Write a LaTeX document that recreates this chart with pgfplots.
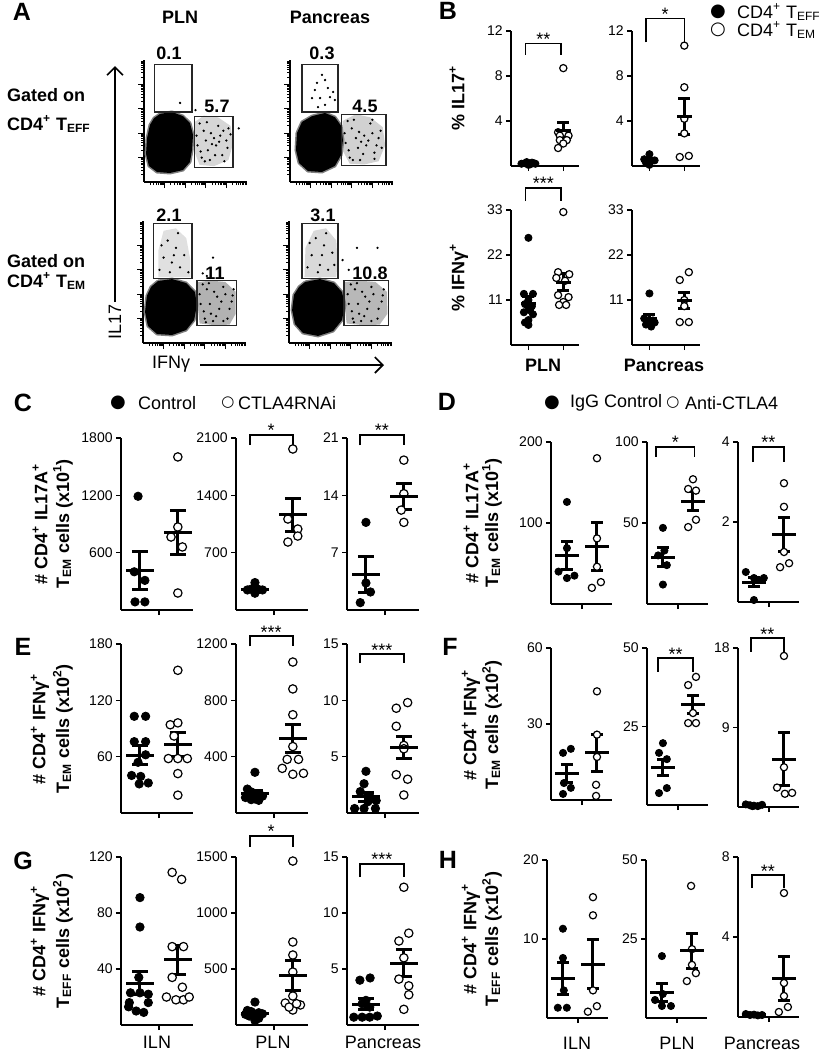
\documentclass[border=0pt]{standalone}
\usepackage{fontspec}
\setmainfont{Liberation Sans}
\newfontfamily\dejavu{DejaVu Sans}
\usepackage{pgfplots}
\usepackage{pgfplotstable}
\pgfplotsset{compat=1.18}
\usetikzlibrary{arrows.meta}

\newcommand\tickfont{\fontsize{7}{8}\selectfont}
\newcommand\lbl{\fontsize{9}{10}\selectfont\bfseries}
\newcommand\reg{\fontsize{9}{10}\selectfont}
\newcommand\pan{\fontsize{12.5}{13}\selectfont\bfseries}
\newcommand\sigfont{\fontsize{9}{10}\selectfont}

% significance bracket: x1 x2 ytop ybottom xmid stars
\newcommand{\sig}[6]{%
  \draw[line width=0.8pt] (axis cs:#1,#4) -- (axis cs:#1,#3) -- (axis cs:#2,#3) -- (axis cs:#2,#4);
  \node[font=\sigfont, anchor=base, inner sep=0pt, yshift=-1pt] at (axis cs:#5,#3) {#6};}

\tikzset{gate/.style={draw=black!85, line width=0.55pt}}

\pgfplotsset{
  dot/.style={scale only axis, anchor=south west, clip=false,
    axis x line*=bottom, axis y line*=left,
    axis line style={line width=1pt},
    every tick/.style={black, line width=0.8pt},
    major tick length=2.5pt, tick align=outside,
    xtick={1.5}, xticklabels={}, ymin=0,
    yticklabel style={font=\tickfont, inner sep=1.5pt},
    xmin=0.5, xmax=2.4, width=36pt},
  dotr/.style={dot, xmin=0.47, xmax=2.5, width=30.5pt},
  dotb/.style={dot, xmin=0.5, xmax=2.45, width=34pt, height=67.5pt, xtick={1,2}},
  ctl/.style={only marks, mark=*, mark size=#1, black},
  ctl/.default=2.1pt,
  trt/.style={only marks, mark=*, mark size=#1, mark options={draw=black, fill=white, line width=0.6pt}},
  trt/.default=2.1pt,
  msem/.style n args={2}{black, only marks, mark=-, mark size=#1, mark options={line width=1.5pt},
    error bars/y dir=both, error bars/y explicit,
    error bars/error bar style={line width=1.5pt},
    error bars/error mark options={rotate=90, line width=1.5pt, mark size=#2}},
  flow/.style={scale only axis, anchor=south west, clip=false,
    width=51.5pt, height=61pt, xmin=0, xmax=5, ymin=0, ymax=5,
    axis x line*=bottom, axis y line*=left,
    axis line style={line width=0.6pt},
    every tick/.style={black, line width=0.5pt},
    tick align=outside, major tick length=3pt, minor tick length=1.5pt,
    xtick={1,2,3,4}, ytick={1,2,3,4}, xticklabels={}, yticklabels={},
    minor xtick={0.301,0.477,0.602,0.699,0.778,0.845,0.903,0.954,1.301,1.477,1.602,1.699,1.778,1.845,1.903,1.954,2.301,2.477,2.602,2.699,2.778,2.845,2.903,2.954,3.301,3.477,3.602,3.699,3.778,3.845,3.903,3.954,4.301,4.477,4.602,4.699,4.778,4.845,4.903,4.954},
    minor ytick={0.301,0.477,0.602,0.699,0.778,0.845,0.903,0.954,1.301,1.477,1.602,1.699,1.778,1.845,1.903,1.954,2.301,2.477,2.602,2.699,2.778,2.845,2.903,2.954,3.301,3.477,3.602,3.699,3.778,3.845,3.903,3.954,4.301,4.477,4.602,4.699,4.778,4.845,4.903,4.954}},
  speck/.style={only marks, mark=*, mark size=0.35pt, black},
}

\pgfplotstableread{
x y
0.78 2.79
1.36 2.87
1.89 2.70
2.23 2.42
2.38 1.93
2.33 1.31
2.23 0.82
1.89 0.49
1.26 0.37
0.63 0.41
0.24 0.66
0.10 1.15
0.15 1.80
0.29 2.34
0.49 2.62
0.78 2.79
}\blobTL

\pgfplotstableread{
x y
1.07 2.70
1.70 2.83
2.18 2.66
2.48 2.30
2.57 1.72
2.48 1.11
2.18 0.66
1.55 0.41
0.87 0.45
0.44 0.78
0.29 1.31
0.34 2.01
0.58 2.46
1.07 2.70
}\blobTR

\pgfplotstableread{
x y
0.73 2.54
1.41 2.62
2.09 2.46
2.52 2.09
2.62 1.56
2.48 0.94
2.09 0.53
1.41 0.33
0.68 0.37
0.24 0.70
0.10 1.27
0.19 1.93
0.39 2.30
0.73 2.54
}\blobBL

\pgfplotstableread{
x y
0.78 2.50
1.50 2.62
2.18 2.46
2.57 2.09
2.72 1.56
2.57 0.94
2.14 0.49
1.41 0.29
0.68 0.41
0.29 0.78
0.15 1.35
0.24 1.97
0.49 2.30
0.78 2.50
}\blobBR

\begin{document}
\begin{tikzpicture}
\useasboundingbox (0,0) rectangle (409.5pt,-525pt);

% ================= A: flow plots =================
\begin{axis}[flow, at={(72pt,-91pt)}]
\addplot[fill=black!16, draw=none, mark=none] coordinates {(2.45,2.45) (2.9,2.72) (3.6,2.65) (4.2,2.3) (4.33,1.6) (4.1,0.9) (3.4,0.65) (2.7,0.7) (2.42,1.3) (2.45,2.45)};
\addplot[speck] coordinates {(2.6,1.5) (2.9,2.1) (3.1,1.3) (3.4,1.8) (3.6,2.3) (3.8,1.1) (4.0,1.7) (3.2,0.9) (2.7,2.4) (3.5,1.5) (4.1,2.2) (2.8,1.0) (3.0,1.7) (3.7,1.9) (4.6,2.2) (1.75,3.24) (2.5,2.95)
 (2.55,1.9) (2.75,1.25) (3.05,2.45) (3.25,2.0) (3.45,1.1) (3.65,1.65) (3.85,2.1) (4.05,1.4) (4.2,1.95) (3.3,1.55) (2.95,0.85) (3.9,0.85)};
\addplot[draw=black!50, line width=1.5pt, line join=round, mark=none] table {\blobTL};
\addplot[fill=black, draw=none, mark=none] table {\blobTL};
\draw[gate] (axis cs:0.49,2.87) rectangle (axis cs:2.33,4.80);
\draw[gate] (axis cs:2.43,0.61) rectangle (axis cs:4.32,2.70);
\end{axis}

\begin{axis}[flow, at={(145pt,-91pt)}]
\addplot[fill=black!18, draw=none, mark=none] coordinates {(2.55,2.5) (3.2,2.78) (3.9,2.65) (4.5,2.25) (4.62,1.5) (4.3,0.85) (3.6,0.72) (2.9,0.75) (2.55,1.3) (2.55,2.5)};
\addplot[speck] coordinates {(2.7,1.6) (3.0,2.2) (3.3,1.4) (3.6,1.9) (3.9,2.4) (4.1,1.2) (4.3,1.8) (3.4,0.9) (2.8,2.5) (3.7,1.5) (4.4,2.1) (2.9,1.0) (3.2,1.8) (4.0,2.0)
 (2.65,2.0) (2.85,1.3) (3.1,2.55) (3.35,2.05) (3.55,1.15) (3.8,1.7) (4.0,2.55) (4.2,1.5) (4.45,1.4) (3.45,1.65) (3.05,0.9) (4.1,0.95)
 (1.55,4.39) (1.31,4.06) (1.84,3.85) (1.70,4.18) (1.07,3.44) (1.46,3.44) (1.94,3.48) (2.09,3.69) (1.21,3.77) (1.70,3.16) (2.18,3.36) (1.36,3.07)};
\addplot[draw=black!50, line width=1.5pt, line join=round, mark=none] table {\blobTR};
\addplot[fill=black, draw=none, mark=none] table {\blobTR};
\draw[gate] (axis cs:0.58,2.87) rectangle (axis cs:2.33,4.80);
\draw[gate] (axis cs:2.52,0.66) rectangle (axis cs:4.66,2.75);
\end{axis}

\begin{axis}[flow, at={(71.5pt,-171.5pt)}]
\addplot[fill=black!12, draw=none, mark=none] coordinates {(0.75,2.7) (0.75,3.8) (1.0,4.6) (1.6,4.7) (2.1,4.3) (2.3,3.4) (2.3,2.7) (0.75,2.7)};
\addplot[fill=black!30, draw=none, mark=none] coordinates {(2.68,2.5) (3.3,2.56) (4.0,2.5) (4.5,2.1) (4.5,1.2) (4.2,0.75) (3.4,0.74) (2.75,0.8) (2.66,1.5) (2.68,2.5)};
\addplot[speck] coordinates {(0.8,3.0) (1.0,3.5) (1.2,4.2) (1.4,3.3) (1.6,3.9) (1.8,3.1) (2.0,3.6) (1.3,2.9) (1.7,4.5) (2.2,2.9) (0.9,4.0) (1.5,3.6)
 (2.8,1.6) (3.1,2.2) (3.3,1.2) (3.6,1.9) (3.9,2.3) (4.1,1.0) (4.3,1.7) (3.4,0.9) (2.9,2.4) (3.7,1.4) (4.4,2.2) (3.0,1.0)
 (2.75,2.0) (2.95,1.3) (3.2,2.45) (3.45,2.1) (3.55,1.1) (3.8,1.7) (4.0,2.0) (4.2,1.4) (4.35,1.95) (3.25,1.6) (3.05,0.85) (3.9,0.9)
 (3.4,3.5) (2.9,2.85) (3.1,2.75)};
\addplot[draw=black!50, line width=1.5pt, line join=round, mark=none] table {\blobBL};
\addplot[fill=black, draw=none, mark=none] table {\blobBL};
\draw[gate] (axis cs:0.49,2.66) rectangle (axis cs:2.38,4.88);
\draw[gate] (axis cs:2.62,0.70) rectangle (axis cs:4.56,2.58);
\end{axis}

\begin{axis}[flow, at={(144.5pt,-171.5pt)}]
\addplot[fill=black!15, draw=none, mark=none] coordinates {(0.75,2.7) (0.8,3.9) (1.2,4.6) (1.8,4.7) (2.3,4.2) (2.35,3.3) (2.3,2.7) (0.75,2.7)};
\addplot[fill=black!28, draw=none, mark=none] coordinates {(2.72,2.5) (3.4,2.56) (4.2,2.5) (4.75,2.1) (4.78,1.2) (4.4,0.75) (3.5,0.74) (2.8,0.8) (2.7,1.5) (2.72,2.5)};
\addplot[speck] coordinates {(0.9,3.1) (1.1,3.6) (1.3,4.3) (1.5,3.2) (1.7,4.0) (1.9,3.0) (2.1,3.7) (1.4,2.9) (1.8,4.5) (2.2,3.2) (1.0,4.1) (1.6,3.6)
 (2.9,1.6) (3.2,2.2) (3.4,1.2) (3.7,1.9) (4.0,2.3) (4.3,1.0) (4.5,1.7) (3.5,0.9) (3.0,2.4) (3.8,1.4) (4.6,2.2) (3.1,1.0)
 (2.85,2.0) (3.05,1.3) (3.3,2.45) (3.55,2.1) (3.65,1.1) (3.9,1.7) (4.1,2.0) (4.35,1.4) (4.55,1.95) (3.35,1.6) (3.15,0.85) (4.0,0.9)
 (2.6,3.4) (3.3,3.9) (4.3,3.9) (2.9,3.0)};
\addplot[draw=black!50, line width=1.5pt, line join=round, mark=none] table {\blobBR};
\addplot[fill=black, draw=none, mark=none] table {\blobBR};
\draw[gate] (axis cs:0.63,2.66) rectangle (axis cs:2.38,4.88);
\draw[gate] (axis cs:2.67,0.70) rectangle (axis cs:4.81,2.58);
\end{axis}

% ================= B =================
\begin{axis}[dotb, at={(255.5pt,-83pt)}, ymax=12, ytick={4,8,12}, yticklabels={4,8,12}]
\addplot[ctl=1.8pt] coordinates {(0.8,0.2) (0.9,0.25) (1.0,0.1) (1.1,0.3) (1.2,0.2) (0.95,0.35) (1.05,0.15) (1.15,0.25)};
\addplot[trt=1.8pt] coordinates {(2.0,8.7) (1.85,3.0) (2.0,2.9) (2.15,2.7) (1.9,2.7) (2.1,2.3) (1.9,2.3) (2.0,2.0) (1.85,1.6)};
\addplot[msem={3.8pt}{3pt}] coordinates {(1,0.22) +- (0,0.03) (2,3.13) +- (0,0.75)};
\sig{0.91}{1.94}{10.9}{9.9}{1.43}{**}
\end{axis}

\begin{axis}[dotb, at={(316pt,-83pt)}, ymax=12, ytick={4,8,12}, yticklabels={4,8,12}]
\addplot[ctl=1.8pt] coordinates {(1.0,1.05) (0.85,0.6) (1.15,0.5) (1.0,0.4) (0.9,0.3) (1.0,0.1)};
\addplot[trt=1.8pt] coordinates {(2.0,10.7) (2.0,7.0) (2.0,4.2) (2.0,2.9) (1.87,0.8) (2.13,0.9)};
\addplot[msem={3.8pt}{3pt}] coordinates {(1,0.49) +- (0,0.14) (2,4.42) +- (0,1.6)};
\sig{0.9}{2.0}{13.1}{11.0}{1.45}{*}
\end{axis}

\begin{axis}[dotb, at={(255.5pt,-172.5pt)}, ymax=33, ytick={11,22,33}, yticklabels={11,22,33}]
\addplot[ctl=1.8pt] coordinates {(1.0,26.2) (0.87,12.5) (1.13,12.5) (1.0,11) (0.9,10) (1.1,9.5) (1.0,8.6) (0.87,8) (1.13,7.5) (1.0,6.1) (1.0,4.9) (0.9,5.5)};
\addplot[trt=1.8pt] coordinates {(2.0,32.5) (1.85,17.8) (2.17,17.3) (1.8,16.4) (2.05,15.7) (1.85,12.2) (2.15,11.7) (2.0,10.5) (1.88,9.8) (2.08,9.8)};
\addplot[msem={3.8pt}{3pt}] coordinates {(1,10.2) +- (0,1.7) (2,15.4) +- (0,2.1)};
\sig{0.91}{1.94}{38.4}{35.2}{1.43}{***}
\end{axis}

\begin{axis}[dotb, at={(316pt,-172.5pt)}, ymax=33, ytick={11,22,33}, yticklabels={11,22,33}]
\addplot[ctl=1.8pt] coordinates {(1.0,12.6) (0.85,6.5) (1.1,6) (0.95,5.8) (1.15,5.5) (0.9,5) (1.05,4.5)};
\addplot[trt=1.8pt] coordinates {(2.13,17.8) (1.87,15.9) (2.0,11) (2.0,9.5) (1.87,5.6) (2.13,5.6)};
\addplot[msem={3.8pt}{3pt}] coordinates {(1,6.5) +- (0,1.0) (2,10.9) +- (0,2.0)};
\end{axis}

% ================= C =================
\begin{axis}[dot, at={(60.5pt,-305pt)}, height=86pt, ymax=1800, ytick={600,1200,1800}, yticklabels={600,1200,1800}]
\addplot[ctl] coordinates {(0.95,1190) (0.85,400) (1.13,310) (0.87,85) (1.13,85)};
\addplot[trt] coordinates {(1.82,764) (2.0,869) (2.12,660) (2.0,1602) (2.0,178)};
\addplot[msem={7pt}{4pt}] coordinates {(1,414) +- (0,195) (2,815) +- (0,230)};
\end{axis}

\begin{axis}[dot, at={(118pt,-305pt)}, height=86pt, ymax=2100, ytick={700,1400,2100}, yticklabels={700,1400,2100}]
\addplot[ctl] coordinates {(0.8,245) (0.9,255) (1.0,335) (1.0,205) (1.1,250) (1.2,245)};
\addplot[trt] coordinates {(2.0,1966) (1.87,1111) (2.13,989) (1.87,830) (2.13,903)};
\addplot[msem={7pt}{4pt}] coordinates {(1,256) +- (0,20) (2,1160) +- (0,200)};
\sig{0.87}{2.0}{2137}{2014}{1.43}{*}
\end{axis}

\begin{axis}[dot, at={(173.5pt,-305pt)}, height=86pt, ymax=21, ytick={7,14,21}, yticklabels={7,14,21}]
\addplot[ctl] coordinates {(1.0,10.7) (1.0,3.3) (1.12,2.2) (0.85,0.9)};
\addplot[trt] coordinates {(2.0,18.3) (2.0,14.2) (1.93,12.2) (2.0,10.7)};
\addplot[msem={7pt}{4pt}] coordinates {(1,4.3) +- (0,2.2) (2,13.85) +- (0,1.6)};
\sig{0.84}{2.0}{21.4}{20.1}{1.42}{**}
\end{axis}

% ================= D =================
\begin{axis}[dotr, at={(275.5pt,-302pt)}, height=81pt, ymax=200, ytick={100,200}, yticklabels={100,200}]
\addplot[ctl=1.8pt] coordinates {(1.0,126) (1.0,69) (0.72,40) (1.0,32) (1.25,35)};
\addplot[trt=1.8pt] coordinates {(2.0,180) (2.0,81) (2.0,46) (1.83,20) (2.13,27)};
\addplot[msem={6pt}{3pt}] coordinates {(1,60) +- (0,17) (2,71) +- (0,30)};
\end{axis}

\begin{axis}[dotr, at={(323.5pt,-302pt)}, height=81pt, ymax=100, ytick={50,100}, yticklabels={50,100}]
\addplot[ctl=1.8pt] coordinates {(1.0,47) (0.84,30) (1.13,24) (1.0,12) (1.05,33)};
\addplot[trt=1.8pt] coordinates {(2.0,77) (1.84,71) (2.1,70) (1.84,47.5) (2.1,52)};
\addplot[msem={6pt}{3pt}] coordinates {(1,29) +- (0,5.7) (2,63.5) +- (0,5.8)};
\sig{0.77}{2.05}{97}{91}{1.41}{*}
\end{axis}

\begin{axis}[dotr, at={(369pt,-301pt)}, height=80pt, ymax=4, ytick={2,4}, yticklabels={2,4}]
\addplot[ctl=1.8pt] coordinates {(0.73,0.75) (1.0,0.6) (1.33,0.6) (1.15,0.55) (1.0,0.05)};
\addplot[trt=1.8pt] coordinates {(2.0,2.97) (2.0,2.38) (2.0,1.25) (1.87,0.87) (2.17,0.97)};
\addplot[msem={6pt}{3pt}] coordinates {(1,0.5) +- (0,0.12) (2,1.69) +- (0,0.42)};
\sig{0.97}{2.0}{3.88}{3.5}{1.48}{**}
\end{axis}

% ================= E =================
\begin{axis}[dot, at={(60.5pt,-406.5pt)}, height=84.5pt, ymax=180, ytick={60,120,180}, yticklabels={60,120,180}]
\addplot[ctl] coordinates {(0.85,103) (1.15,103) (0.85,76) (1.15,76) (1.15,62) (0.95,54) (0.78,40) (1.02,39) (0.98,31) (1.22,32)};
\addplot[trt] coordinates {(2.0,152) (1.8,94) (2.0,96) (1.9,82) (1.75,58) (2.0,58) (2.25,58) (2.0,42) (2.0,19)};
\addplot[msem={7pt}{4pt}] coordinates {(1,61.6) +- (0,10) (2,73) +- (0,12.5)};
\end{axis}

\begin{axis}[dot, at={(118pt,-406.5pt)}, height=84.5pt, ymax=1200, ytick={400,800,1200}, yticklabels={400,800,1200}]
\addplot[ctl] coordinates {(1.0,289) (0.8,170) (0.9,150) (1.1,130) (1.2,120) (0.75,110) (1.0,100) (0.9,95) (1.1,90)};
\addplot[trt] coordinates {(2.0,1072) (2.0,881) (2.0,698) (2.0,472) (1.85,381) (2.15,381) (1.72,317) (2.0,275) (2.28,282)};
\addplot[msem={7pt}{4pt}] coordinates {(1,139) +- (0,22) (2,529) +- (0,98)};
\sig{0.87}{2.0}{1255}{1184}{1.43}{***}
\end{axis}

\begin{axis}[dot, at={(173.5pt,-406.5pt)}, height=84.5pt, ymax=15, ytick={5,10,15}, yticklabels={5,10,15}]
\addplot[ctl] coordinates {(1.0,3.7) (0.95,2.6) (0.85,1.9) (1.1,1.5) (1.27,1.1) (0.7,0.4) (0.95,0.4) (1.25,0.4) (1.05,1.0)};
\addplot[trt] coordinates {(1.8,9.3) (2.1,9.8) (1.8,7.7) (2.0,6.0) (2.0,5.7) (1.8,3.4) (2.1,3.0) (2.0,1.6)};
\addplot[msem={7pt}{4pt}] coordinates {(1,1.44) +- (0,0.4) (2,5.8) +- (0,1.0)};
\sig{0.84}{2.0}{14.1}{13.3}{1.42}{***}
\end{axis}

% ================= F =================
\begin{axis}[dotr, at={(275.5pt,-400pt)}, height=76pt, ymax=60, ytick={30,60}, yticklabels={30,60}]
\addplot[ctl=1.8pt] coordinates {(0.87,18.6) (1.13,20.2) (0.9,6.7) (1.13,4.8) (0.87,2.4)};
\addplot[trt=1.8pt] coordinates {(2.0,42.9) (2.0,25.8) (2.0,17) (1.97,6) (1.97,1.6)};
\addplot[msem={6pt}{3pt}] coordinates {(1,10.5) +- (0,3.6) (2,18.7) +- (0,7.3)};
\end{axis}

\begin{axis}[dotr, at={(323.5pt,-402.5pt)}, height=78.5pt, ymax=50, ytick={25,50}, yticklabels={25,50}]
\addplot[ctl=1.8pt] coordinates {(1.0,19.7) (0.87,16.6) (1.13,14.6) (1.13,5.4) (0.87,3.8)};
\addplot[trt=1.8pt] coordinates {(2.1,40.8) (1.84,38.2) (2.0,29.3) (1.84,26.1) (2.1,26.1)};
\addplot[msem={6pt}{3pt}] coordinates {(1,12) +- (0,2.6) (2,32.1) +- (0,2.8)};
\sig{0.84}{2.0}{46.8}{42.4}{1.42}{**}
\end{axis}

\begin{axis}[dotr, at={(369pt,-403.5pt)}, height=79.5pt, ymax=18, ytick={9,18}, yticklabels={9,18}]
\addplot[ctl=1.8pt] coordinates {(0.73,0.3) (0.87,0.2) (1.0,0.15) (1.13,0.1) (1.27,0.25) (0.95,0.1)};
\addplot[trt=1.8pt] coordinates {(2.0,17.1) (2.0,4.5) (1.77,2.2) (2.03,1.5) (2.27,1.6)};
\addplot[msem={6pt}{3pt}] coordinates {(1,0.2) +- (0,0.04) (2,5.4) +- (0,3.0)};
\sig{0.9}{2.0}{19.1}{17.6}{1.45}{**}
\end{axis}

% ================= G =================
\begin{axis}[dot, at={(60.5pt,-512.5pt)}, height=84pt, ymax=120, ytick={40,80,120}, yticklabels={40,80,120}]
\addplot[ctl] coordinates {(1.0,91) (1.0,70) (0.97,34) (0.75,23) (1.0,23) (1.22,22) (0.72,16) (1.22,16) (0.7,13) (0.9,10) (1.1,9)};
\addplot[trt] coordinates {(1.85,109) (2.1,104) (1.85,56) (2.15,56) (1.85,34) (2.12,27) (1.7,20) (1.95,18) (2.15,18) (2.3,20)};
\addplot[msem={7pt}{4pt}] coordinates {(1,30) +- (0,8.5) (2,46.5) +- (0,10.3)};
\end{axis}

\begin{axis}[dot, at={(118pt,-512.5pt)}, height=84pt, ymax=1500, ytick={500,1000,1500}, yticklabels={500,1000,1500}]
\addplot[ctl] coordinates {(1.0,205) (0.8,130) (0.9,120) (1.1,110) (1.2,100) (0.75,95) (1.0,90) (0.85,80) (1.1,60) (1.0,40)};
\addplot[trt] coordinates {(2.0,1464) (2.0,741) (2.0,625) (2.0,473) (2.0,259) (1.8,196) (2.0,134) (2.2,179) (1.9,160) (2.1,190)};
\addplot[msem={7pt}{4pt}] coordinates {(1,103) +- (0,16) (2,442) +- (0,130)};
\sig{0.87}{2.0}{1688}{1590}{1.43}{*}
\end{axis}

\begin{axis}[dot, at={(173.5pt,-512.5pt)}, height=84pt, ymax=15, ytick={5,10,15}, yticklabels={5,10,15}]
\addplot[ctl] coordinates {(0.84,4.0) (1.11,4.2) (1.0,2.2) (0.9,1.9) (1.1,1.6) (0.68,0.7) (0.9,0.7) (1.1,0.7) (1.3,0.8)};
\addplot[trt] coordinates {(2.0,12.3) (2.13,8.2) (1.87,7.5) (2.0,6.0) (1.87,4.1) (2.13,3.5) (2.13,2.7) (2.0,1.4)};
\addplot[msem={7pt}{4pt}] coordinates {(1,1.87) +- (0,0.5) (2,5.5) +- (0,1.2)};
\sig{0.84}{2.0}{14.4}{13.2}{1.42}{***}
\end{axis}

% ================= H =================
\begin{axis}[dotr, at={(273.5pt,-509pt)}, height=79pt, ymax=20, ytick={10,20}, yticklabels={10,20}]
\addplot[ctl=1.8pt] coordinates {(1.0,11.3) (1.0,7.6) (1.03,3.5) (0.83,1.3) (1.13,1.3)};
\addplot[trt=1.8pt] coordinates {(2.0,15.3) (2.0,13) (2.0,3.5) (1.83,0.8) (2.13,1.5)};
\addplot[msem={6pt}{3pt}] coordinates {(1,5.0) +- (0,2.0) (2,6.8) +- (0,3.1)};
\end{axis}

\begin{axis}[dotr, at={(323pt,-509pt)}, height=79pt, ymax=50, ytick={25,50}, yticklabels={25,50}]
\addplot[ctl=1.8pt] coordinates {(1.0,19.6) (0.77,5.7) (1.03,7.6) (1.3,3.8) (1.0,3.8)};
\addplot[trt=1.8pt] coordinates {(1.97,41.8) (2.0,21.8) (2.0,16.8) (2.13,14.2) (1.83,11.7)};
\addplot[msem={6pt}{3pt}] coordinates {(1,8.1) +- (0,2.9) (2,21.3) +- (0,5.5)};
\end{axis}

\begin{axis}[dotr, at={(369pt,-508.5pt)}, height=80pt, ymax=8, ytick={4,8}, yticklabels={4,8}]
\addplot[ctl=1.8pt] coordinates {(0.73,0.15) (0.87,0.1) (1.0,0.12) (1.13,0.08) (1.27,0.1)};
\addplot[trt=1.8pt] coordinates {(2.0,6.2) (2.0,1.7) (2.0,1.05) (1.83,0.25) (2.13,0.5)};
\addplot[msem={6pt}{3pt}] coordinates {(1,0.11) +- (0,0.02) (2,1.94) +- (0,1.1)};
\sig{0.93}{2.0}{7.1}{6.45}{1.46}{**}
\end{axis}

% ================= text =================
\begin{scope}[x=0.5pt, y=-0.5pt]
\node[font=\pan] at (22,12) {A};
\node[font=\pan] at (448,11) {B};
\node[font=\pan] at (23,403) {C};
\node[font=\pan] at (447,402) {D};
\node[font=\pan] at (23,647) {E};
\node[font=\pan] at (450,647) {F};
\node[font=\pan] at (23,861) {G};
\node[font=\pan] at (448,860) {H};

% A
\node[font=\lbl] at (180,17) {PLN};
\node[font=\lbl] at (330,17) {Pancreas};
\node[font=\lbl, anchor=west] at (0,95) {Gated on};
\node[font=\lbl, anchor=west] at (0,124) {CD4\textsuperscript{+} T\textsubscript{EFF}};
\node[font=\lbl, anchor=west] at (0,261) {Gated on};
\node[font=\lbl, anchor=west] at (0,281) {CD4\textsuperscript{+} T\textsubscript{EM}};
\node[font=\lbl] at (169,53) {0.1};
\node[font=\lbl] at (217,106) {5.7};
\node[font=\lbl] at (322,53) {0.3};
\node[font=\lbl] at (365,106) {4.5};
\node[font=\lbl] at (169,215) {2.1};
\node[font=\lbl] at (215,273) {11};
\node[font=\lbl] at (323,215) {3.1};
\node[font=\lbl] at (370,273) {10.8};
\draw[line width=0.8pt, -{Straight Barb[length=4pt,width=8pt]}] (115,302) -- (115,66);
\draw[line width=0.8pt, -{Straight Barb[length=4pt,width=8pt]}] (200,365) -- (384,365);
\node[font=\reg, rotate=90] at (115,322) {IL17};
\node[font=\reg] at (171,364) {IFNγ};

% B
\node[font=\lbl, rotate=90] at (457,98) {\% IL17\textsuperscript{+}};
\node[font=\lbl, rotate=90] at (459,277) {\% IFNγ\textsuperscript{+}};
\node[font=\lbl] at (543,365) {PLN};
\node[font=\lbl] at (664,365) {Pancreas};
\node[font=\reg] at (718,12) {\dejavu ●};
\node[font=\reg] at (718,30) {\dejavu ○};
\node[font=\reg, anchor=west] at (730,12) {CD4\textsuperscript{+} T\textsubscript{EFF}};
\node[font=\reg, anchor=west] at (730,30) {CD4\textsuperscript{+} T\textsubscript{EM}};

% C / D legends
\node[font=\reg] at (118,403) {\dejavu ●};
\node[font=\reg, anchor=west] at (131,403) {Control};
\node[font=\fontsize{7.5}{8}\selectfont] at (228,403) {\dejavu ○};
\node[font=\reg, anchor=west] at (231,403) {CTLA4RNAi};
\node[font=\reg] at (552,403) {\dejavu ●};
\node[font=\reg, anchor=west] at (563,403) {IgG Control};
\node[font=\fontsize{7.5}{8}\selectfont] at (673,403) {\dejavu ○};
\node[font=\reg, anchor=west] at (678,403) {Anti-CTLA4};

% y labels
\node[font=\lbl, rotate=90] at (40,524) {\# CD4\textsuperscript{+} IL17A\textsuperscript{+}};
\node[font=\lbl, rotate=90] at (63,524) {T\textsubscript{EM} cells (x10\textsuperscript{1})};
\node[font=\lbl, rotate=90] at (40,729) {\# CD4\textsuperscript{+} IFNγ\textsuperscript{+}};
\node[font=\lbl, rotate=90] at (63,729) {T\textsubscript{EM} cells (x10\textsuperscript{2})};
\node[font=\lbl, rotate=90] at (40,941) {\# CD4\textsuperscript{+} IFNγ\textsuperscript{+}};
\node[font=\lbl, rotate=90] at (63,941) {T\textsubscript{EFF} cells (x10\textsuperscript{2})};
\node[font=\lbl, rotate=90] at (471,523) {\# CD4\textsuperscript{+} IL17A\textsuperscript{+}};
\node[font=\lbl, rotate=90] at (492,523) {T\textsubscript{EM} cells (x10\textsuperscript{1})};
\node[font=\lbl, rotate=90] at (471,725) {\# CD4\textsuperscript{+} IFNγ\textsuperscript{+}};
\node[font=\lbl, rotate=90] at (492,725) {T\textsubscript{EM} cells (x10\textsuperscript{2})};
\node[font=\lbl, rotate=90] at (471,939) {\# CD4\textsuperscript{+} IFNγ\textsuperscript{+}};
\node[font=\lbl, rotate=90] at (492,939) {T\textsubscript{EFF} cells (x10\textsuperscript{2})};

% x category labels
\node[font=\reg] at (157,1042) {ILN};
\node[font=\reg] at (273,1042) {PLN};
\node[font=\reg] at (383,1042) {Pancreas};
\node[font=\reg] at (577,1043) {ILN};
\node[font=\reg] at (677,1043) {PLN};
\node[font=\reg] at (762,1043) {Pancreas};
\end{scope}
\end{tikzpicture}
\end{document}
